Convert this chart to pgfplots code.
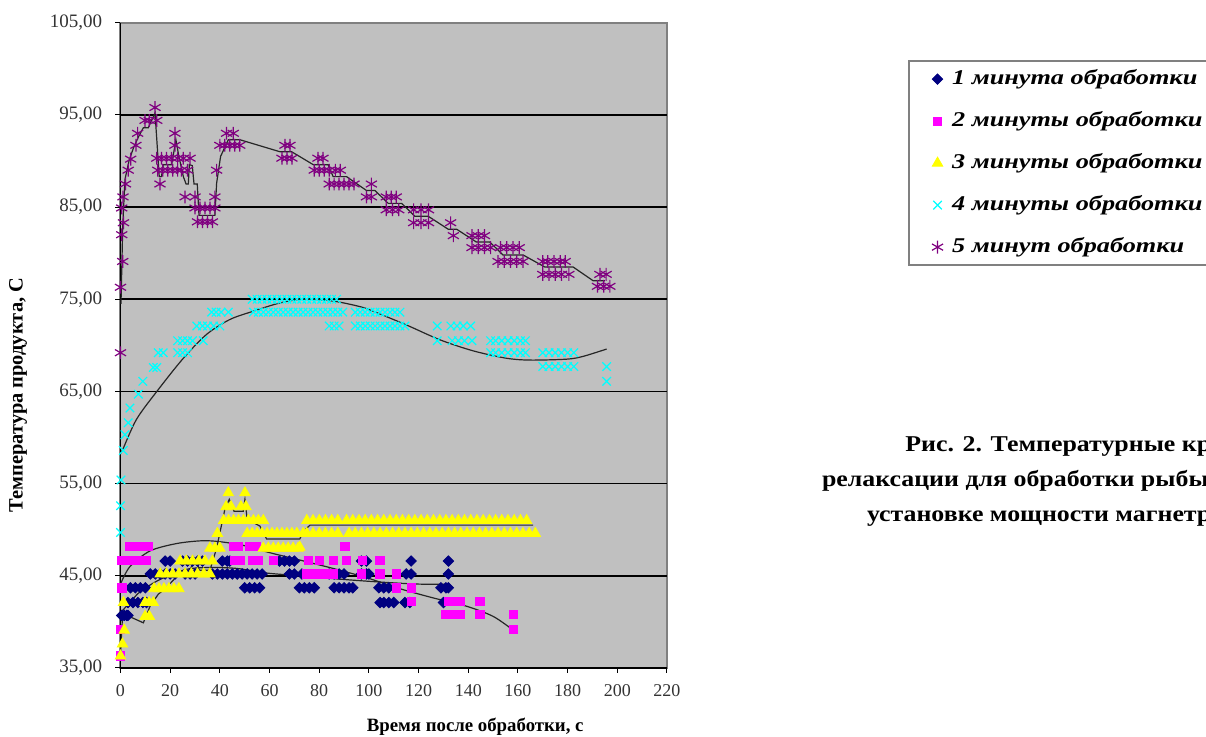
\documentclass[border=0pt]{standalone}
\usepackage{fontspec}
\setmainfont{Liberation Serif}
\usepackage{graphicx}
\usepackage{pgfplots}
\pgfplotsset{compat=1.18}
\definecolor{navyc}{RGB}{0,0,128}
\definecolor{magc}{RGB}{255,0,255}
\definecolor{yelc}{RGB}{255,255,0}
\definecolor{cyac}{RGB}{0,255,255}
\definecolor{purc}{RGB}{128,0,128}
\definecolor{bgc}{RGB}{192,192,192}
\definecolor{frc}{RGB}{128,128,128}
\begin{document}
\begin{tikzpicture}
\useasboundingbox (0,0) rectangle (603pt,368.5pt);
\clip (0,0) rectangle (603pt,368.5pt);
\begin{axis}[
  at={(60.25pt,34.5pt)}, anchor=south west,
  scale only axis, width=273.25pt, height=322.65pt,
  xmin=0, xmax=220, ymin=35, ymax=105,
  xtick={0,20,...,220}, ytick={35,45,...,105},
  axis x line*=bottom, axis y line*=left,
  axis line style={black, line width=0.6pt},
  tick align=outside, major tick length=2.5pt,
  tick style={black, line width=0.5pt},
  axis background/.style={fill=bgc, draw=frc, line width=1pt},
  extra y ticks={45,55,65,75,85,95}, extra y tick labels={},
  extra y tick style={grid=major},
  major grid style={black, line width=0.75pt},
  /pgf/number format/assume math mode=true,
  xticklabel style={font=\fontsize{9}{10}\selectfont, text=black!80, yshift=-2pt},
  yticklabel style={font=\fontsize{9.5}{10}\selectfont, text=black!80, xshift=-3.2pt, /pgf/number format/fixed, /pgf/number format/fixed zerofill, /pgf/number format/precision=2, /pgf/number format/use comma},
  xlabel={Время после обработки, с},
  ylabel={Температура продукта, С},
  xlabel style={font=\bfseries\fontsize{9.4}{10}\selectfont, at={(axis description cs:0.649,-0.0914)}, anchor=center},
  ylabel style={font=\bfseries\fontsize{10.2}{11}\selectfont, at={(axis description cs:-0.1876,0.423)}, anchor=center},
  clip=false,
  legend style={at={(1.441,0.942)}, anchor=north west, draw=frc, line width=1pt, fill=white,
    font=\bfseries\itshape\fontsize{10.5}{12}\selectfont, row sep=8pt, column sep=2.5pt, inner xsep=11.5pt, inner ysep=2.5pt,
    nodes={inner sep=2pt, text height=7pt, text depth=2pt}},
  legend cell align=left,
  legend image code/.code={\draw[mark repeat=2,mark phase=2,#1] plot coordinates {(0pt,0pt)(5pt,0pt)(10pt,0pt)};},
]
% Series 1
\addplot[only marks, mark=square*, mark options={rotate=45}, mark size=1.85pt, color=navyc, line width=0.4pt] coordinates {
(0.5,40.7)(1.5,40.7)(2.5,40.7)(3,40.7)
(3,42.1)(5,42.1)(7,42.1)(9,42.1)(10.5,42.1)
(4,43.7)(6,43.7)(8,43.7)(10,43.7)
(12,45.2)(14,45.2)(16,45.2)(18,45.2)(20,45.2)(22,45.2)(26,45.2)(28,45.2)(30,45.2)
(37,45.2)(39,45.2)(41,45.2)(43,45.2)(45,45.2)(47,45.2)(49,45.2)(51,45.2)(53,45.2)(55,45.2)(57,45.2)(68,45.2)(70,45.2)
(73,45.2)(84,45.2)(86,45.2)(88,45.2)(90,45.2)(97,45.2)(99,45.2)(100,45.2)(115,45.2)(117,45.2)(132,45.2)
(18,46.6)(20,46.6)(25,46.6)(27,46.6)(29,46.6)(31,46.6)(33,46.6)(41,46.6)(43,46.6)(44,46.6)(64,46.6)(66,46.6)(68,46.6)(70,46.6)(97,46.6)(99,46.6)(117,46.6)(132,46.6)
(50,43.7)(52,43.7)(54,43.7)(56,43.7)(72,43.7)(74,43.7)(76,43.7)(78,43.7)(86,43.7)(88,43.7)(90,43.7)(92,43.7)(93.5,43.7)(104,43.7)(106,43.7)(108,43.7)(129,43.7)(131,43.7)(132,43.7)
(104.5,42.1)(106,42.1)(108,42.1)(110,42.1)(114.5,42.1)(116.5,42.1)(130,42.1)
};
\addlegendentry{\scalebox{1.25}[1]{\makebox[110pt][l]{1 минута обработки}}}
% Series 2
\addplot[only marks, mark=square*, mark size=2.1pt, color=magc, line width=0.4pt] coordinates {
(0,36.3)(0,39.2)(0.5,43.7)(0.5,46.7)(2.5,46.7)(4.5,46.7)(6.5,46.7)(8.5,46.7)(10.5,46.7)
(3.5,48.2)(5.5,48.2)(7.5,48.2)(9.5,48.2)(11,48.2)
(45.5,48.2)(47.5,48.2)(52,48.2)(54.5,48.2)
(46,46.7)(48,46.7)(53,46.7)(55.5,46.7)(61.5,46.7)
(90.3,48.2)
(75.6,46.7)(80,46.7)(85.6,46.7)(91,46.7)(97.5,46.7)(104.4,46.7)
(75,45.2)(77,45.2)(79,45.2)(81,45.2)(83,45.2)(85.5,45.2)(97,45.2)(104.4,45.2)(111.1,45.2)
(111.1,43.7)(117.2,43.7)
(117.2,42.2)(132,42.2)(134.5,42.2)(136.6,42.2)(144.7,42.2)
(131,40.8)(133,40.8)(135,40.8)(136.6,40.8)(144.7,40.8)(158.1,40.8)
(158.1,39.2)
};
\addlegendentry{\scalebox{1.25}[1]{\makebox[110pt][l]{2 минуты обработки}}}
% Series 3
\addplot[only marks, mark=triangle*, mark size=3pt, color=yelc, line width=0.4pt] coordinates {
(0,36.3)(0.8,37.6)(1.5,39.1)(1.2,42.1)(9.9,40.6)(11.6,40.6)(9.9,42.1)(11.5,42.1)(13.2,42.1)
(13.5,43.6)(15.5,43.6)(17.5,43.6)(19.5,43.6)(21.5,43.6)(23.5,43.6)
(16,45.2)(18.5,45.2)(21,45.2)(23.5,45.2)(26,45.2)(28.5,45.2)(31,45.2)(33.5,45.2)(36,45.2)
(24,46.6)(26.5,46.6)(29,46.6)(31.5,46.6)(34,46.6)(37,46.6)
(36,48.0)(38,48.0)(40,48.0)(39,49.6)
(41.5,51.0)(43.5,51.0)(45.5,51.0)(47.5,51.0)(49.5,51.0)(51.5,51.0)(53.5,51.0)(55.5,51.0)(57.5,51.0)
(42.5,52.5)(44.5,52.5)(48.5,52.5)(50.5,52.5)
(43.4,54.0)(50.1,54.0)
(51,49.6)(53,49.6)(55,49.6)(57,49.6)(59,49.6)(61,49.6)(63,49.6)(65,49.6)(67,49.6)(69,49.6)(71,49.6)(73.5,49.6)
(57.5,48.0)(59.5,48.0)(61.5,48.0)(63.5,48.0)(65.5,48.0)(67.5,48.0)(69.5,48.0)(71.5,48.0)(72.2,48.1)
(75,51.0)(77.5,51.0)(80,51.0)(82.5,51.0)(85,51.0)(87.5,51.0)
(75,49.6)(77.5,49.6)(80,49.6)(82.5,49.6)(85,49.6)(87.5,49.6)
(91,51.0)(93.5,51.0)(96,51.0)(98.5,51.0)(101,51.0)(103.5,51.0)(106,51.0)(108.5,51.0)(111,51.0)(113.5,51.0)
(116,51.0)(118.5,51.0)(121,51.0)(123.5,51.0)(126,51.0)(128.5,51.0)(131,51.0)(133.5,51.0)(136,51.0)(138.5,51.0)
(141,51.0)(143.5,51.0)(146,51.0)(148.5,51.0)(151,51.0)(153.5,51.0)(156,51.0)(158.5,51.0)(161,51.0)(163.5,51.0)
(92,49.6)(94.5,49.6)(97,49.6)(99.5,49.6)(102,49.6)(104.5,49.6)(107,49.6)(109.5,49.6)(112,49.6)(114.5,49.6)
(117,49.6)(119.5,49.6)(122,49.6)(124.5,49.6)(127,49.6)(129.5,49.6)(132,49.6)(134.5,49.6)(137,49.6)(139.5,49.6)
(142,49.6)(144.5,49.6)(147,49.6)(149.5,49.6)(152,49.6)(154.5,49.6)(157,49.6)(159.5,49.6)(162,49.6)(164.5,49.6)(167,49.6)
};
\addlegendentry{\scalebox{1.25}[1]{\makebox[110pt][l]{3 минуты обработки}}}
% Series 4
\addplot[only marks, mark=x, mark size=3pt, color=cyac, line width=0.6pt] coordinates {
(0,49.7)(0,52.6)(0.2,55.4)(1.1,58.6)(1.8,60.3)(3.1,61.6)(3.8,63.2)(7.2,64.7)(9,66.1)(13.2,67.6)(14.6,67.6)
(15.2,69.2)(17.2,69.2)(23,69.2)(25,69.2)(27,69.2)(23,70.5)(25,70.5)(27,70.5)(29,70.5)(33.3,70.5)
(30.7,72.1)(33,72.1)(35,72.1)(37.5,72.1)(40,72.1)(36.7,73.6)(38.5,73.6)(40.5,73.6)(43.4,73.6)
(53,75.0)(55,75.0)(57,75.0)(59,75.0)(61,75.0)(63,75.0)(65,75.0)(67,75.0)(69,75.0)(71,75.0)(73,75.0)(75,75.0)(77,75.0)(79,75.0)(81,75.0)(83,75.0)(85,75.0)(87,75.0)
(53.5,73.6)(55.5,73.6)(57.5,73.6)(59.5,73.6)(61.5,73.6)(63.5,73.6)(65.5,73.6)(67.5,73.6)(69.5,73.6)(71.5,73.6)(73.5,73.6)(75.5,73.6)(77.5,73.6)(79.5,73.6)(81.5,73.6)(83.5,73.6)(85.5,73.6)(87.5,73.6)(89.5,73.6)
(94.5,73.6)(96.5,73.6)(98.5,73.6)(100.5,73.6)(102.5,73.6)(104.5,73.6)(106.5,73.6)(108.5,73.6)(110.5,73.6)(112.5,73.6)
(84,72.1)(86,72.1)(88,72.1)
(94.5,72.1)(96.5,72.1)(98.5,72.1)(100.5,72.1)(102.5,72.1)(104.5,72.1)(106.5,72.1)(108.5,72.1)(110.5,72.1)(112.5,72.1)(114.5,72.1)
(127.5,72.1)(133,72.1)(135.5,72.1)(138,72.1)(141,72.1)
(127.5,70.5)(133.5,70.5)(136,70.5)(138.5,70.5)(141.5,70.5)
(149,70.5)(151,70.5)(153.5,70.5)(156,70.5)(158.5,70.5)(161,70.5)(163,70.5)
(149,69.2)(151,69.2)(153.5,69.2)(156,69.2)(158.5,69.2)(161,69.2)(163,69.2)
(170,69.2)(172.5,69.2)(175,69.2)(177.5,69.2)(180,69.2)(182.5,69.2)
(170,67.7)(172.5,67.7)(175,67.7)(177.5,67.7)(180,67.7)(182.5,67.7)
(195.7,67.7)(195.7,66.1)
};
\addlegendentry{\scalebox{1.25}[1]{\makebox[110pt][l]{4 минуты обработки}}}
% Series 5
\addplot[only marks, mark=asterisk, mark size=3.2pt, color=purc, line width=0.6pt] coordinates {
(0,69.2)(0,76.3)(0.9,79.1)(0.5,82.0)(1.2,83.3)(0.5,84.9)(1,86.1)(2,87.5)(3.1,89.0)(4.1,90.2)(6.2,91.7)(6.9,93.0)
(9.9,94.4)(11.6,94.4)(13.9,95.8)(14.6,94.4)
(14.6,90.3)(16.5,90.3)(18.5,90.3)(20.5,90.3)(23,90.3)(25.3,90.3)(28,90.3)
(15,89.0)(17,89.0)(19,89.0)(21,89.0)(23,89.0)(24.5,89.0)(27,89.0)
(15.9,87.5)(21.9,93.0)(21.9,91.7)(26,86.1)(30,86.1)
(30,84.9)(32,84.9)(34,84.9)(36,84.9)(38,84.9)
(31,83.4)(33,83.4)(35,83.4)(37,83.4)
(38,86.1)(38.7,89.0)(40,91.7)(42.7,93.0)(45.4,93.0)
(42,91.7)(44,91.7)(46,91.7)(48,91.7)
(66.2,91.7)(68.2,91.7)(65,90.3)(67,90.3)(69,90.3)
(79.5,90.3)(81.5,90.3)(78,89.0)(80,89.0)(82,89.0)(84,89.0)(86.5,89.0)(88.5,89.0)
(84,87.5)(86,87.5)(88,87.5)(90,87.5)(92,87.5)(94,87.5)(101,87.5)
(99,86.1)(101,86.1)(107,86.1)(109,86.1)(111,86.1)
(107,84.7)(109.5,84.7)(112,84.7)(118,84.7)(121,84.7)(124,84.7)
(118,83.3)(121,83.3)(124,83.3)(132.9,83.3)
(134,81.9)(141.5,81.9)(144,81.9)(146.5,81.9)
(141.5,80.6)(144,80.6)(146.5,80.6)(149,80.6)
(153,80.6)(155.5,80.6)(158,80.6)(160.5,80.6)
(152,79.1)(154.5,79.1)(157,79.1)(159.5,79.1)(162,79.1)
(170,79.1)(172,79.1)(174.5,79.1)(177,79.1)(179,79.1)
(170,77.7)(172.5,77.7)(175,77.7)(177.5,77.7)(180.5,77.7)(193,77.7)(195.5,77.7)
(192,76.4)(194.5,76.4)(197,76.4)
};
\addlegendentry{\scalebox{1.25}[1]{\makebox[110pt][l]{5 минут обработки}}}
% Trend / average lines
\addplot[forget plot, smooth, black!85, line width=0.6pt] coordinates {
(0,41.0)(3.8,42.1)(8,43.3)(15.9,44.6)(26.6,45.7)(36,45.9)(46.8,45.8)(58.8,45.3)(72.3,45.0)(90,44.6)(105.8,44.3)(120,44.1)(131.9,44.1)};
\addplot[forget plot, smooth, black!85, line width=0.6pt] coordinates {
(0,44.1)(3.8,46.0)(11.9,47.7)(22.6,48.5)(32.7,48.8)(40,48.7)(49.4,48.3)(60.2,47.5)(72.3,46.7)(85.6,45.8)(99,44.8)(112.5,43.6)(125.9,42.6)(139.3,41.7)(150,40.6)(158.1,39.1)};
\addplot[forget plot, black!85, line width=0.6pt] coordinates {
(0,36.3)(0.8,40.6)(1.8,40.8)(9.2,39.9)(11.9,41.7)(15.2,43.0)(17.9,43.6)(21.2,44.5)(23.9,45.4)(28,45.6)(29.3,46.5)(30.8,46.5)(31.7,45.6)(36,45.6)(38.7,48.0)(42,52.2)(43.8,53.3)(45.7,52.0)(49.4,52.0)(50.1,53.3)(51,51.1)(56.1,50.4)(58.8,49.0)(72.2,49.0)(73.6,49.8)(76.3,50.5)(166.1,50.5)};
\addplot[forget plot, smooth, black!85, line width=0.6pt] coordinates {
(0,58.3)(0.9,58.7)(6.5,62.0)(15.2,65.2)(25.3,68.6)(34.7,71.2)(44,72.8)(53.4,73.7)(64.2,74.6)(73.6,75.0)(85.6,74.8)(96.4,74.2)(101.7,73.7)(115.2,72.2)(128.6,70.6)(142,69.4)(155.4,68.6)(164.8,68.4)(179.6,68.5)(186.2,68.8)(195.7,69.6)};
\addplot[forget plot, black!85, line width=0.6pt] coordinates {
(0.2,74.5)(0.9,82.9)(1.8,88.0)(3.5,90.1)(5.2,91.4)(7.2,92.6)(9.2,93.6)(11.2,93.6)(13.9,95.2)(15.6,88.3)(16.5,88.3)(17.2,89.6)(20.6,89.6)(22.3,92.3)(23.5,90.5)(25.3,88.3)(26.4,87.5)(27.3,87.5)(27.7,89.6)(28.9,89.5)(29.6,87.5)(30.9,87.5)(31.6,84.1)(38,84.1)(38.7,87.6)(40.3,90.5)(43.4,92.3)(48.1,92.3)(64.2,91.0)(68.9,91.0)(77.6,89.6)(83.6,89.6)(85.6,88.3)(91,88.3)(99,86.8)(102.4,86.8)(107.8,85.4)(113.2,85.4)(118.5,84.0)(123.9,84.0)(131.9,82.6)(135.3,82.6)(143.3,81.2)(148.7,81.2)(154,79.8)(162.1,79.8)(170.8,78.5)(182.2,78.5)(190.3,77.0)(195,77.0)};
\end{axis}
\node[anchor=base west, inner sep=0, font=\bfseries\fontsize{11.3}{13}\selectfont] at (452.5pt,142.65pt) {\scalebox{1.145}[1]{Рис. 2. Температурные кривые}};
\node[anchor=base west, inner sep=0, font=\bfseries\fontsize{11.3}{13}\selectfont] at (410.8pt,125.15pt) {\scalebox{1.145}[1]{релаксации для обработки рыбы при}};
\node[anchor=base west, inner sep=0, font=\bfseries\fontsize{11.3}{13}\selectfont] at (433.3pt,107.65pt) {\scalebox{1.145}[1]{установке мощности магнетрона}};
\end{tikzpicture}
\end{document}
